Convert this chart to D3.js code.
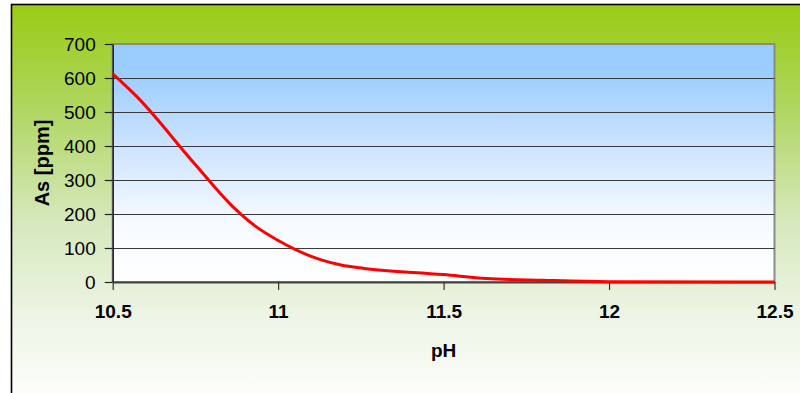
<!DOCTYPE html>
<html>
<head>
<meta charset="utf-8">
<script src="https://cdn.jsdelivr.net/npm/d3@7"></script>
<style>
  html, body { margin: 0; padding: 0; background: #ffffff; }
  svg { display: block; }
  text { font-family: "Liberation Sans", Arial, sans-serif; fill: #000; }
</style>
</head>
<body>
<svg id="chart" width="800" height="393"></svg>
<script>
// Arsenic concentration against pH
const phValues = [10.5, 10.57, 10.75, 10.87, 10.93, 11.0, 11.13, 11.19, 11.26, 11.5, 11.63, 11.8, 12.0, 12.5];
const asValues = [612, 548, 345, 215, 165, 122, 65, 50, 40, 22, 10, 5, 1, 0];
const xTicks = [10.5, 11, 11.5, 12, 12.5];
const yTicks = [0, 100, 200, 300, 400, 500, 600, 700];
const xTitle = "pH";
const yTitle = "As [ppm]";

const svg = d3.select("#chart");
const W = 800, H = 393;
const plot = { left: 112.7, right: 774.5, top: 44, bottom: 282 };

const defs = svg.append("defs");
const frameGrad = defs.append("linearGradient")
  .attr("id", "frameGrad").attr("x1", 0).attr("y1", 0).attr("x2", 0).attr("y2", 1);
[[0, "#99cc14"], [0.25, "#aed55c"], [0.55, "#d6e8bc"], [0.8, "#eef5e6"], [1, "#fdfefb"]]
  .forEach(([o, c]) => frameGrad.append("stop").attr("offset", o).attr("stop-color", c));

const plotGrad = defs.append("linearGradient")
  .attr("id", "plotGrad").attr("x1", 0).attr("y1", 0).attr("x2", 0).attr("y2", 1);
[[0, "#99ccff"], [0.12, "#9ccdff"], [0.45, "#cfe5ff"], [0.75, "#f6faff"], [1, "#ffffff"]]
  .forEach(([o, c]) => plotGrad.append("stop").attr("offset", o).attr("stop-color", c));

// chart frame
svg.append("rect")
  .attr("x", 11.5).attr("y", 4.5).attr("width", W).attr("height", H)
  .attr("fill", "url(#frameGrad)")
  .attr("stroke", "#000").attr("stroke-width", 1.6);

const x = d3.scaleLinear().domain([10.5, 12.5]).range([plot.left, plot.right]);
const y = d3.scaleLinear().domain([0, 700]).range([plot.bottom, plot.top]);

// plot area background
svg.append("rect")
  .attr("x", plot.left).attr("y", plot.top)
  .attr("width", plot.right - plot.left).attr("height", plot.bottom - plot.top)
  .attr("fill", "url(#plotGrad)")
  .attr("stroke", "#8a8a8a").attr("stroke-width", 2);

// horizontal gridlines
svg.append("g")
  .selectAll("line")
  .data(yTicks.filter(d => d > 0 && d < 700))
  .join("line")
  .attr("x1", plot.left).attr("x2", plot.right)
  .attr("y1", d => Math.round(y(d)) + 0.5).attr("y2", d => Math.round(y(d)) + 0.5)
  .attr("stroke", "#3a3a3a").attr("stroke-width", 1);

// y axis
const yAxis = svg.append("g")
  .attr("transform", `translate(${plot.left},0)`)
  .call(d3.axisLeft(y).tickValues(yTicks).tickSize(8).tickPadding(9).tickSizeOuter(0));
yAxis.select(".domain").attr("stroke", "#222").attr("stroke-width", 1.5);
yAxis.selectAll(".tick line").attr("stroke", "#222").attr("stroke-width", 1.2);
yAxis.selectAll(".tick text")
  .style("font-family", '"Liberation Sans", Arial, sans-serif')
  .style("font-size", "19px").attr("fill", "#000");

// x axis
const xAxis = svg.append("g")
  .attr("transform", `translate(0,${plot.bottom})`)
  .call(d3.axisBottom(x).tickValues(xTicks).tickFormat(d3.format("")).tickSize(8).tickPadding(15).tickSizeOuter(0));
xAxis.select(".domain").attr("stroke", "#444").attr("stroke-width", 2);
xAxis.selectAll(".tick line").attr("stroke", "#333").attr("stroke-width", 1.2);
xAxis.selectAll(".tick text")
  .style("font-family", '"Liberation Sans", Arial, sans-serif')
  .style("font-size", "19px").style("font-weight", "bold").attr("fill", "#000");

// axis titles
svg.append("text")
  .attr("x", (plot.left + plot.right) / 2).attr("y", 357)
  .attr("text-anchor", "middle")
  .style("font-size", "19px").style("font-weight", "bold")
  .text(xTitle);

svg.append("text")
  .attr("transform", `translate(49,${(plot.top + plot.bottom) / 2}) rotate(-90)`)
  .attr("text-anchor", "middle")
  .style("font-size", "20px").style("font-weight", "bold")
  .text(yTitle);

// arsenic curve
const series = phValues.map((p, i) => ({ p, v: asValues[i] }));
svg.append("path")
  .datum(series)
  .attr("fill", "none")
  .attr("stroke", "#ff0000")
  .attr("stroke-width", 3)
  .attr("stroke-linejoin", "round")
  .attr("d", d3.line().x(d => x(d.p)).y(d => y(d.v)).curve(d3.curveMonotoneX));
</script>
</body>
</html>
